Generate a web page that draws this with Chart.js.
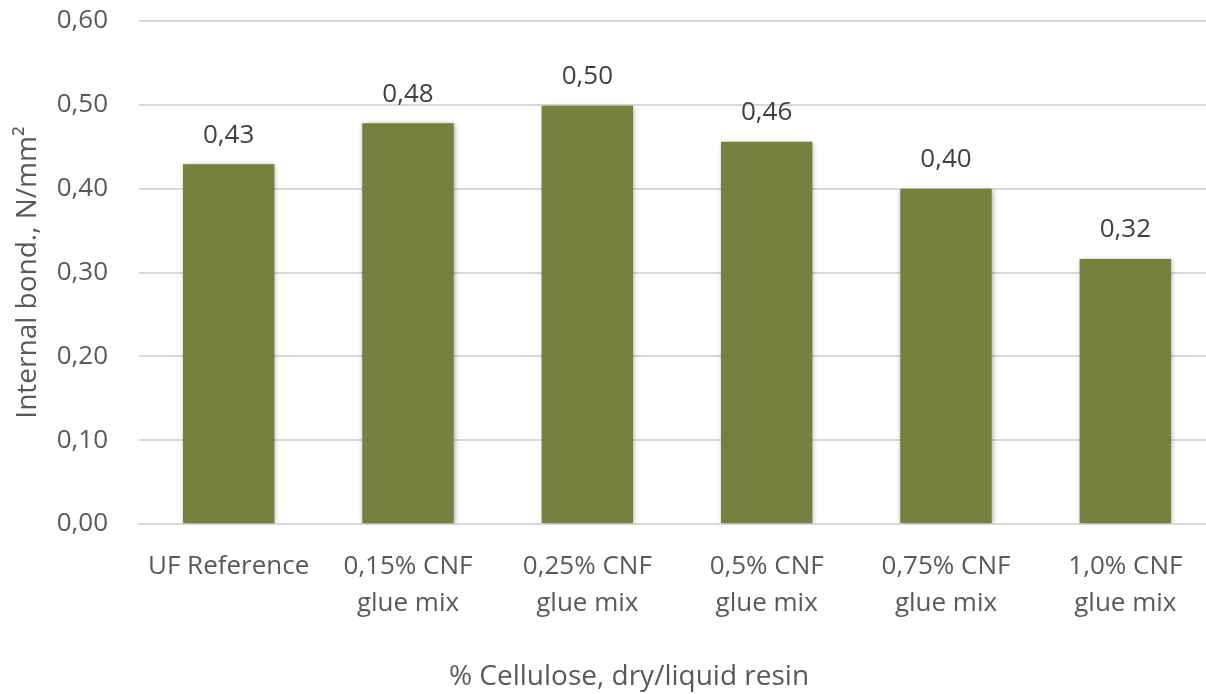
<!DOCTYPE html>
<html>
<head>
<meta charset="utf-8">
<title>Internal bond</title>
<script src="https://cdn.jsdelivr.net/npm/chart.js@4/dist/chart.umd.min.js"></script>
<style>
  html, body { margin: 0; padding: 0; background: #ffffff; overflow: hidden; }
  #wrap { width: 1206px; height: 694px; overflow: hidden; }
</style>
</head>
<body>
<div id="wrap"><canvas id="chart" width="1215" height="694"></canvas></div>
<script>
// Categories (two-line labels) and measured internal bond values
const categories = [
  ['UF Reference'],
  ['0,15% CNF', 'glue mix'],
  ['0,25% CNF', 'glue mix'],
  ['0,5% CNF', 'glue mix'],
  ['0,75% CNF', 'glue mix'],
  ['1,0% CNF', 'glue mix']
];
const internalBond = [0.429, 0.478, 0.499, 0.456, 0.400, 0.316];
const yTicks = [0, 0.1, 0.2, 0.3, 0.4, 0.5, 0.6];
const xTitle = '% Cellulose, dry/liquid resin';
const yTitle = 'Internal bond., N/mm²';

const FONT = "'Open Sans', 'Noto Sans', sans-serif";
const SIZE = 26;
const TITLE_SIZE = 28;
const fmt = v => v.toFixed(2).replace('.', ',');

// soft drop shadow behind the bars
const barShadow = {
  id: 'barShadow',
  beforeDatasetsDraw(chart) {
    const ctx = chart.ctx;
    ctx.save();
    ctx.shadowColor = 'rgba(0,0,0,0.35)';
    ctx.shadowBlur = 5;
    ctx.shadowOffsetX = 1;
    ctx.shadowOffsetY = 1;
  },
  afterDatasetsDraw(chart) {
    chart.ctx.restore();
  }
};

// value labels above each bar
const valueLabels = {
  id: 'valueLabels',
  afterDatasetsDraw(chart) {
    const ctx = chart.ctx;
    const meta = chart.getDatasetMeta(0);
    ctx.save();
    ctx.font = SIZE + 'px ' + FONT;
    ctx.fillStyle = '#404040';
    ctx.textAlign = 'center';
    ctx.textBaseline = 'middle';
    meta.data.forEach((bar, i) => {
      ctx.fillText(fmt(chart.data.datasets[0].data[i]), bar.x, bar.y - 29);
    });
    ctx.restore();
  }
};

// horizontal axis title, centred under the visible page width
const bottomTitle = {
  id: 'bottomTitle',
  afterDraw(chart) {
    const ctx = chart.ctx;
    ctx.save();
    ctx.font = TITLE_SIZE + 'px ' + FONT;
    ctx.fillStyle = '#595959';
    ctx.textAlign = 'center';
    ctx.textBaseline = 'middle';
    ctx.fillText(xTitle, 629, 677);
    ctx.restore();
  }
};

new Chart(document.getElementById('chart'), {
  type: 'bar',
  data: {
    labels: categories,
    datasets: [{
      data: internalBond,
      backgroundColor: '#77803e',
      borderWidth: 0,
      categoryPercentage: 1,
      barPercentage: 0.51
    }]
  },
  options: {
    responsive: false,
    devicePixelRatio: 1,
    animation: false,
    layout: { padding: { top: 21, right: 0, bottom: 0, left: 0 } },
    plugins: {
      legend: { display: false },
      tooltip: { enabled: false }
    },
    scales: {
      x: {
        grid: { display: false, drawTicks: false },
        border: { display: true, color: '#d9d9d9', width: 2 },
        ticks: {
          color: '#595959',
          font: { family: FONT, size: SIZE, lineHeight: 1.42 },
          padding: 24,
          maxRotation: 0,
          autoSkip: false
        },
        title: { display: false },
        afterFit(scale) {
          scale.height = 170;
          scale.paddingLeft = 0;
          scale.paddingRight = 0;
        }
      },
      y: {
        min: 0,
        max: 0.6,
        afterBuildTicks(scale) { scale.ticks = yTicks.map(v => ({ value: v })); },
        grid: { color: '#d9d9d9', lineWidth: 2, drawTicks: false },
        border: { display: false },
        ticks: {
          color: '#595959',
          font: { family: FONT, size: SIZE },
          padding: 31,
          callback: v => fmt(v)
        },
        title: {
          display: true,
          text: yTitle,
          color: '#595959',
          font: { family: FONT, size: TITLE_SIZE },
          padding: { top: 11, bottom: 0 }
        },
        afterFit(scale) {
          scale.width = 139;
          scale.paddingTop = 0;
          scale.paddingBottom = 0;
        }
      }
    }
  },
  plugins: [barShadow, valueLabels, bottomTitle]
});
</script>
</body>
</html>
